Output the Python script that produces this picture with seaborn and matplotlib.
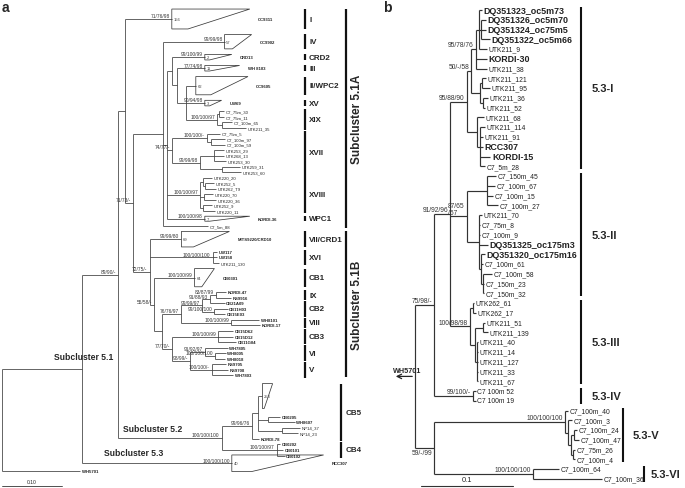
import seaborn as sns
import matplotlib.pyplot as plt
from matplotlib.collections import LineCollection
from matplotlib.patches import Polygon

# ---------------- panel a : marine Synechococcus overview (subst./site) ----------------
clade_xix = "((C7_75m_30:0.008,C7_75m_11:0.008):0.003,(C7_100m_65:0.018,UTK211_35:0.04):0.007)100/100/97:0.053"
clade_xvii = ("((C7_75m_5:0.023,(C7_100m_97:0.023,C7_100m_59:0.023):0.008)100/100/-:0.058,"
              "((UTK253_29:0.017,UTK268_13:0.017,UTK253_30:0.02):0.023,"
              "(UTK259_31:0.03,UTK253_60:0.032):0.037)99/99/98:0.047)74/77/-:0.008")
clade_xviii = ("((UTK220_20:0.015,(UTK252_5:0.015,UTK262_T9:0.018):0.003):0.005,"
               "(UTK220_70:0.015,UTK220_36:0.02):0.007,"
               "(UTK252_9:0.015,UTK220_11:0.02):0.005)100/100/97:0.055")
sub51a = ("(CC9902:0.103,((CRD13:0.055,(WH 8103:0.047,(CC9605:0.017,UW69:0.032,"
          + clade_xix + "):0.015):0.008):0.008," + clade_xvii + "," + clade_xviii
          + ",KORDI-36:0.063):0.007,C7_5m_88:0.075):0.05")
sub51b = ("(MITS9220/CRD10:0.053,(UW117:0.008,UW158:0.008,UTK211_130:0.01)100/100/100:0.105,"
          "(CB0301:0.067,(((((KORDI-47:0.017,RS9916:0.025)83/87/99:0.01,CB21A09:0.025)91/88/93:0.012,"
          "(CB11H03:0.022,CB15E03:0.018)99/100/100:0.02)99/99/97:0.035,"
          "(WH8101:0.047,KORDI-17:0.048)100/100/99:0.083)76/76/97:0.033,"
          "((CB15D62:0.025,CB15D12:0.025,CB11G04:0.03)100/100/99:0.077,"
          "((WH7805:0.038,(WH8005:0.018,WH8018:0.017)100/100/100:0.017)91/92/97:0.025,"
          "(RS9705:0.023,RS9708:0.027,WH7803:0.035)100/100/-:0.037)98/99/-:0.03)77/70/-:0.017)"
          ":0.012)55/58/-:0.008)72/75/-:0.028")
sub51 = "(CC9311:0.078,(" + sub51a + "," + sub51b + ")71/73/-:0.013):0.012"
sub52 = ("((CB5-253:0.008,(CB0205:0.02,WH8607:0.045):0.017,(NP14_37:0.03,NP14_23:0.027):0.04):0.01,"
         "KORDI-78:0.013)99/96/76:0.05,(CB0202:0.005,CB0101:0.01,CB0102:0.013)100/100/97:0.092")
tree_a = ("(((" + sub51 + ",(" + sub52 + ")100/100/100:0.173)89/90/-:0.06,RCC307:0.25):0.133,"
          "WH5701:0.13);")

# collapsed clades: (taxa shown, slot rows, height rows, longest, shortest, support)
collapsed_a = {
    'CC9311': ('156', 4.6, 3.6, 0.13, 0.027, '71/76/98'),
    'CC9902': ('57', 3.6, 2.6, 0.045, 0.013, '99/99/98'),
    'CRD13': ('2', 2.0, 1.0, 0.045, 0.008, '99/100/99'),
    'WH 8103': ('11', 2.0, 1.0, 0.058, 0.008, '77/74/98'),
    'CC9605': ('62', 4.3, 3.3, 0.087, 0.025, ''),
    'UW69': ('3', 2.0, 1.0, 0.028, 0.008, '90/94/98'),
    'KORDI-36': ('7', 1.8, 0.9, 0.075, 0.008, '100/100/98'),
    'MITS9220/CRD10': ('69', 3.6, 2.8, 0.08, 0.02, '99/99/80'),
    'CB0301': ('64', 4.3, 3.3, 0.033, 0.012, '100/100/99'),
    'CB5-253': ('253', 6.5, 4.5, 0.017, 0.003, ''),
    'RCC307': ('40', 1.8, 3.0, 0.153, 0.033, '100/100/100'),
}
unlabeled_a = ['CB5-253']
bold_a = ['CC9311', 'CC9902', 'CRD13', 'WH 8103', 'CC9605', 'UW69', 'KORDI-36', 'MITS9220/CRD10',
          'UW117', 'UW158', 'CB0301', 'KORDI-47', 'RS9916', 'CB21A09', 'CB11H03', 'CB15E03',
          'WH8101', 'KORDI-17', 'CB15D62', 'CB15D12', 'CB11G04', 'WH7805', 'WH8005', 'WH8018',
          'RS9705', 'RS9708', 'WH7803', 'CB0205', 'WH8607', 'KORDI-78', 'CB0202', 'CB0101',
          'CB0102', 'RCC307', 'WH5701']
groups_a = [('I', 'CC9311', 'CC9311'), ('IV', 'CC9902', 'CC9902'), ('CRD2', 'CRD13', 'CRD13'),
            ('III', 'WH 8103', 'WH 8103'), ('II/WPC2', 'CC9605', 'CC9605'), ('XV', 'UW69', 'UW69'),
            ('XIX', 'C7_75m_30', 'UTK211_35'), ('XVII', 'C7_75m_5', 'UTK253_60'),
            ('XVIII', 'UTK220_20', 'UTK220_11'), ('WPC1', 'KORDI-36', 'KORDI-36'),
            ('VII/CRD1', 'MITS9220/CRD10', 'MITS9220/CRD10'), ('XVI', 'UW117', 'UTK211_130'),
            ('CB1', 'CB0301', 'CB0301'), ('IX', 'KORDI-47', 'RS9916'), ('CB2', 'CB21A09', 'CB15E03'),
            ('VIII', 'WH8101', 'KORDI-17'), ('CB3', 'CB15D62', 'CB11G04'), ('VI', 'WH7805', 'WH8018'),
            ('V', 'RS9705', 'WH7803')]
groups_a52 = [('CB5', 'CB5-253', 'KORDI-78'), ('CB4', 'CB0202', 'CB0102')]
subclusters_a = [('Subcluster 5.1A', 'CC9311', 'C7_5m_88'), ('Subcluster 5.1B', 'MITS9220/CRD10', 'WH7803')]

# ---------------- panel b : subcluster 5.3 ----------------
sub53_1 = ("((((DQ351323_oc5m73:0.003,(DQ351326_oc5m70:0.005,DQ351324_oc75m5:0.005,DQ351322_oc5m66:0.009):0.002,"
           "UTK211_9:0.008):0.004,KORDI-30:0.012,UTK211_38:0.012)95/78/76:0.005,"
           "((UTK211_121:0.004,UTK211_95:0.008):0.002,(UTK211_36:0.005,UTK211_52:0.002):0.003):0.01)50/-/58:0.005,"
           "(UTK211_68:0.008,(UTK211_114:0.005,UTK211_91:0.003,RCC307:0.003,KORDI-15:0.011,C7_5m_28:0.005)"
           ":0.004):0.011)95/88/90:0.018")
sub53_2 = ("((C7_150m_45:0.01,C7_100m_67:0.009,C7_100m_15:0.007,C7_100m_27:0.012):0.022,"
           "(UTK211_70:0.003,C7_75m_8:0.001,C7_100m_9:0.001,DQ351325_oc175m3:0.009,"
           "(DQ351320_oc175m16:0.004,C7_100m_61:0.002,(C7_100m_58:0.01,C7_150m_23:0.001,C7_150m_32:0.001)"
           ":0.002):0.002):0.014)87/65\n/57:0.018")
sub53_3 = ("((UTK262_61:0.001,UTK262_17:0.003):0.003,((UTK211_51:0.002,UTK211_139:0.005):0.009,"
           "(UTK211_40:0.001,UTK211_14:0.001,UTK211_127:0.001,UTK211_33:0.001,UTK211_67:0.001):0.002)"
           ":0.005)100/98/98:0.022")
sub53_4 = "(C7 100m 52:0.003,C7 100m 19:0.003)99/100/-:0.042"
sub53_5 = ("(C7_100m_40:0.003,(C7_100m_3:0.005,((C7_100m_24:0.003,C7_100m_47:0.005):0.003,"
           "(C7_75m_26:0.002,C7_100m_4:0.002):0.002):0.004):0.003)100/100/100:0.142")
sub53_6 = "(C7_100m_64:0.028,C7_100m_36:0.075)100/100/100:0.107"
tree_b = ("(((" + sub53_1 + "," + sub53_2 + "," + sub53_3 + ")91/92/96:0.017," + sub53_4
          + ")75/98/-:0.021,(" + sub53_5 + "," + sub53_6 + ")59/-/99:0.021);")
bold_b = ['DQ351323_oc5m73', 'DQ351326_oc5m70', 'DQ351324_oc75m5', 'DQ351322_oc5m66', 'KORDI-30',
          'RCC307', 'KORDI-15', 'DQ351325_oc175m3', 'DQ351320_oc175m16']
groups_b = [('5.3-I', 'DQ351323_oc5m73', 'C7_5m_28'), ('5.3-II', 'C7_150m_45', 'C7_150m_32'),
            ('5.3-III', 'UTK262_61', 'UTK211_67'), ('5.3-IV', 'C7 100m 52', 'C7 100m 19'),
            ('5.3-V', 'C7_100m_40', 'C7_100m_4'), ('5.3-VI', 'C7_100m_64', 'C7_100m_36')]
outgroup_b = 'WH5701'


def parse_newick(s):
    pos = 0

    def read():
        nonlocal pos
        kids = []
        if s[pos] == '(':
            pos += 1
            kids.append(read())
            while s[pos] == ',':
                pos += 1
                kids.append(read())
            pos += 1
        start = pos
        while s[pos] not in ':,);':
            pos += 1
        name = s[start:pos].strip()
        length = 0.0
        if s[pos] == ':':
            pos += 1
            start = pos
            while s[pos] not in ',);':
                pos += 1
            length = float(s[start:pos])
        return {'name': name, 'len': length, 'kids': kids}
    return read()


def walk(node):
    yield node
    for k in node['kids']:
        yield from walk(k)


def place(node, x0, cursor, collapsed):
    node['x'] = x0 + node['len']
    if node['kids']:
        for k in node['kids']:
            place(k, node['x'], cursor, collapsed)
        node['y'] = (node['kids'][0]['y'] + node['kids'][-1]['y']) / 2
    else:
        slot = collapsed[node['name']][1] if node['name'] in collapsed else 1.0
        node['y'] = cursor[0] + slot / 2
        cursor[0] += slot
    return node


def draw_tree(ax, root, collapsed, bold, color, lw, leaf_fs, sup_fs, hidden=(), below=(),
              tri_pad=6, bold_scale=1.0):
    segs = []
    for n in walk(root):
        if n['kids']:
            segs.append([(n['x'], n['kids'][0]['y']), (n['x'], n['kids'][-1]['y'])])
            for k in n['kids']:
                segs.append([(n['x'], k['y']), (k['x'], k['y'])])
    ax.add_collection(LineCollection(segs, colors=color, linewidths=lw))
    for n in walk(root):
        name = n['name']
        if n['kids']:
            if name and n is not root:
                if name in below:
                    ax.annotate(name, (n['x'], n['y']), xytext=(-1.5, -1.0), textcoords='offset points',
                                ha='right', va='top', fontsize=sup_fs, color='#333333')
                else:
                    ax.annotate(name, (n['x'], n['y']), xytext=(-1.5, 0.5), textcoords='offset points',
                                ha='right', va='bottom', fontsize=sup_fs, color='#333333',
                                multialignment='left', linespacing=1.0)
            continue
        is_bold = name in bold
        weight = 'bold' if is_bold else 'normal'
        fs = leaf_fs * bold_scale if is_bold else leaf_fs
        if name in collapsed:
            count, slot, h, lmax, lmin, sup = collapsed[name]
            y0, y1 = n['y'] - h / 2, n['y'] + h / 2
            ax.add_patch(Polygon([(n['x'], y0), (n['x'] + lmax, y0), (n['x'] + lmin, y1), (n['x'], y1)],
                                 closed=True, fill=False, ec=color, lw=lw))
            ax.annotate(count, (n['x'], n['y']), xytext=(1.2, 0), textcoords='offset points',
                        va='center', fontsize=leaf_fs * 0.95, color='#444444')
            if sup:
                ax.annotate(sup, (n['x'], n['y']), xytext=(-1.5, 0.5), textcoords='offset points',
                            ha='right', va='bottom', fontsize=sup_fs, color='#333333')
            if name not in hidden:
                ax.annotate(name, (n['x'] + lmax, n['y']), xytext=(tri_pad, 0), textcoords='offset points',
                            va='center', fontsize=fs, fontweight=weight, color='#222222')
        else:
            ax.annotate(name, (n['x'], n['y']), xytext=(1.2, 0), textcoords='offset points',
                        va='center', fontsize=fs, fontweight=weight, color='#222222')


def leaf_extent(leaves, collapsed, name, pad):
    n = leaves[name]
    half = collapsed[name][2] / 2 if name in collapsed else pad
    return n['y'] - half, n['y'] + half


def draw_groups(ax, leaves, collapsed, groups, xbar, xtext, fs, pad=0.42, rotate=False, lw=1.6):
    for label, first, last in groups:
        top = leaf_extent(leaves, collapsed, first, pad)[0]
        bot = leaf_extent(leaves, collapsed, last, pad)[1]
        ax.plot([xbar, xbar], [top, bot], color='#111111', lw=lw, solid_capstyle='butt')
        if rotate:
            ax.text(xtext, (top + bot) / 2, label, rotation=90, ha='center', va='center',
                    fontsize=fs, fontweight='bold')
        else:
            ax.text(xtext, (top + bot) / 2, label, ha='left', va='center', fontsize=fs,
                    fontweight='bold')


def fit_rows(ax, leaf_list, top_px, bot_px, height):
    r0, r1 = leaf_list[0]['y'], leaf_list[-1]['y']
    s = (bot_px - top_px) / (r1 - r0)
    ax.set_ylim(r1 + (height - bot_px) / s, r0 - top_px / s)


sns.set_theme(style='white')
plt.rcParams['font.family'] = ['Liberation Sans', 'DejaVu Sans']

W, H = 685, 489
fig = plt.figure(figsize=(W / 100, H / 100), dpi=100)
fig.patch.set_facecolor('white')

# ---- panel a
ax_a = fig.add_axes([0, 0, 370 / W, 1])
ax_a.axis('off')
root_a = place(parse_newick(tree_a), 0.0, [0.0], collapsed_a)
leaves_a = [n for n in walk(root_a) if not n['kids']]
leaf_a = {n['name']: n for n in leaves_a}
ax_a.set_xlim(-2 / 600, 368 / 600)
fit_rows(ax_a, leaves_a, 20, 472, H)
draw_tree(ax_a, root_a, collapsed_a, bold_a, '#3a3a3a', 0.55, 3.1, 3.5, hidden=unlabeled_a)
pxa = lambda p: (p - 2) / 600
draw_groups(ax_a, leaf_a, collapsed_a, groups_a, pxa(305), pxa(309), 5.8, pad=0.42)
draw_groups(ax_a, leaf_a, collapsed_a, groups_a52, pxa(341), pxa(346), 5.8, pad=0.42)
draw_groups(ax_a, leaf_a, collapsed_a, subclusters_a, pxa(346), pxa(357), 8.5, pad=0.3, rotate=True)
xa_t = ax_a.get_xaxis_transform()
ax_a.plot([0, 0.1], [1 - 487 / H] * 2, transform=xa_t, color='#333333', lw=0.6)
ax_a.text(0.05, 1 - 485 / H, '0.10', transform=xa_t, ha='center', va='bottom', fontsize=3.6)

# ---- panel b
ax_b = fig.add_axes([383 / W, 0, (W - 383) / W, 1])
ax_b.axis('off')
root_b = place(parse_newick(tree_b), 0.0, [0.0], {})
leaves_b = [n for n in walk(root_b) if not n['kids']]
leaf_b = {n['name']: n for n in leaves_b}
ax_b.set_xlim((383 - 415) / 920, (685 - 415) / 920)
fit_rows(ax_b, leaves_b, 11, 480, H)
draw_tree(ax_b, root_b, {}, bold_b, '#333333', 0.85, 4.9, 4.8, below=['59/-/99'], bold_scale=1.3)
pxb = lambda p: (p - 415) / 920
draw_groups(ax_b, leaf_b, {}, groups_b[:4], pxb(581), pxb(592), 8, pad=0.3, lw=1.5)
draw_groups(ax_b, leaf_b, {}, groups_b[4:5], pxb(623), pxb(633), 8, pad=0.3, lw=1.5)
draw_groups(ax_b, leaf_b, {}, groups_b[5:], pxb(644), pxb(651), 8, pad=0.3, lw=1.5)
ax_b.annotate('', xy=(pxb(393), root_b['y']), xytext=(0, root_b['y']),
              arrowprops=dict(arrowstyle='->', color='#222222', lw=0.9, mutation_scale=8))
ax_b.annotate(outgroup_b, (pxb(393), root_b['y']), xytext=(0, 2), textcoords='offset points',
              ha='left', va='bottom', fontsize=5.2, fontweight='bold')
xb_t = ax_b.get_xaxis_transform()
ax_b.plot([pxb(421), pxb(421) + 0.1], [1 - 487 / H] * 2, transform=xb_t, color='#333333', lw=0.8)
ax_b.text(pxb(421) + 0.05, 1 - 484 / H, '0.1', transform=xb_t, ha='center', va='bottom', fontsize=5.4)

# ---- annotations
fig.text(113 / W, 1 - 358 / H, 'Subcluster 5.1', ha='right', va='center', fontsize=6.2, fontweight='bold')
fig.text(123 / W, 1 - 429 / H, 'Subcluster 5.2', ha='left', va='center', fontsize=6.2, fontweight='bold')
fig.text(104 / W, 1 - 454 / H, 'Subcluster 5.3', ha='left', va='center', fontsize=6.2, fontweight='bold')
fig.text(2 / W, 1 - 1 / H, 'a', ha='left', va='top', fontsize=10, fontweight='bold')
fig.text(383 / W, 1 - 1 / H, 'b', ha='left', va='top', fontsize=10, fontweight='bold')

fig.savefig('out.png', dpi=100, facecolor='white')
